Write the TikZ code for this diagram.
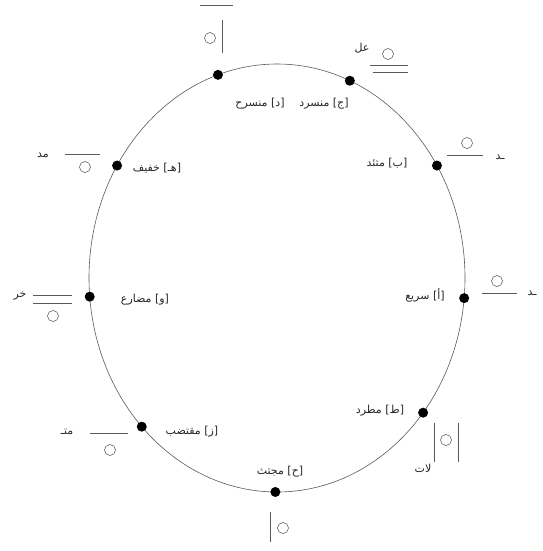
\documentclass[tikz,border=0pt]{standalone}
\usepackage{fontspec}
\newfontfamily\arabicfont[Script=Arabic]{DejaVu Sans}
\TeXXeTstate=1
\begin{document}
\begin{tikzpicture}[x=1pt,y=-1pt,
  dot/.style={circle,fill=black,inner sep=0pt,minimum size=10pt},
  lab/.style={font=\arabicfont\fontsize{11}{13}\selectfont,inner sep=1pt,text=black!85},
  sukun/.style={draw=black!70,line width=0.5pt,circle,inner sep=0pt,minimum size=11pt},
  stroke/.style={draw=black!65,line width=0.6pt}]
\useasboundingbox (0,0) rectangle (542,551);
% the circle
\draw[draw=black!65,line width=0.6pt] (277,278) ellipse [x radius=188pt, y radius=214pt];
% dots on the circle
\foreach \n/\t in {a/-5.4, b/31.7, c/67.2, d/108.3, e/148.3, f/185, g/-136, h/-90.5, i/-39}
  \node[dot] (\n) at ({277+188*cos(\t)},{278-214*sin(\t)}) {};
% inner labels
\node[lab] (la) at (425,295) {\beginR[أ] سريع\endR};
\node[lab] (lb) at (387,163) {\beginR[ب] متئد\endR};
\node[lab] (lc) at (324,104) {\beginR[ج] منسرد\endR};
\node[lab] (ld) at (260,104) {\beginR[د] منسرح\endR};
\node[lab] (le) at (157,168) {\beginR[هـ] خفيف\endR};
\node[lab] (lf) at (145,300) {\beginR[و] مضارع\endR};
\node[lab] (lg) at (192,432) {\beginR[ز] مقتضب\endR};
\node[lab] (lh) at (280,472) {\beginR[ح] مجتث\endR};
\node[lab] (li) at (380,411) {\beginR[ط] مطرد\endR};
% outer marks: top (d)
\draw[stroke] (200,5) -- (233,5);
\draw[stroke] (222,20) -- (222,53);
\node[sukun] (sd) at (210,38) {};
% c
\node[lab] (tc) at (362,48) {\beginR عل\endR};
\node[sukun] (sc) at (388,54) {};
\draw[stroke] (370,65) -- (408,65);
\draw[stroke] (373,72) -- (408,72);
% b
\node[sukun] (sb) at (467,143) {};
\draw[stroke] (447,155) -- (483,155);
\node[lab] (tb) at (500,157) {\beginR ـد\endR};
% a
\node[sukun] (sa) at (497,281) {};
\draw[stroke] (482,293) -- (517,293);
\node[lab] (ta) at (532,293) {\beginR ـد\endR};
% i
\draw[stroke] (434,423) -- (434,462);
\draw[stroke] (458,423) -- (458,462);
\node[sukun] (si) at (446,440) {};
\node[lab] (ti) at (423,468) {\beginR لات\endR};
% h
\draw[stroke] (270,512) -- (270,542);
\node[sukun] (sh) at (283,528) {};
% g
\node[lab] (tg) at (67,432) {\beginR متـ\endR};
\draw[stroke] (90,433) -- (128,433);
\node[sukun] (sg) at (110,450) {};
% f
\node[lab] (tf) at (20,296) {\beginR خر\endR};
\draw[stroke] (33,295) -- (72,295);
\draw[stroke] (33,303) -- (72,303);
\node[sukun] (sf) at (53,316) {};
% e
\node[lab] (te) at (43,155) {\beginR مد\endR};
\draw[stroke] (65,154) -- (100,154);
\node[sukun] (se) at (85,167) {};
\end{tikzpicture}
\end{document}
